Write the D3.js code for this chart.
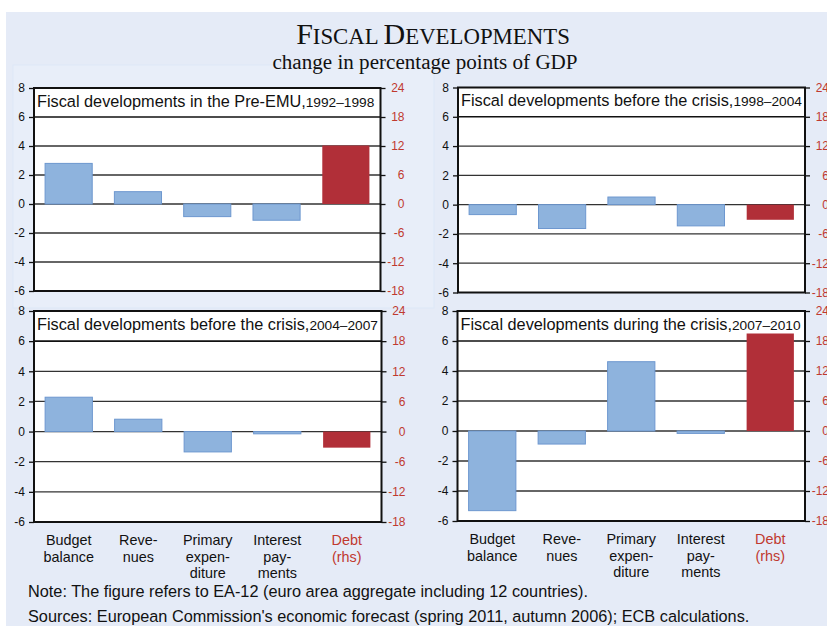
<!DOCTYPE html>
<html><head><meta charset="utf-8">
<script src="https://cdn.jsdelivr.net/npm/d3@7"></script>
<style>
html,body{margin:0;padding:0;background:#fff;}
svg{display:block;}
</style></head>
<body>
<svg id="chart" width="827" height="626"></svg>
<script>
// ---------- DATA ----------
const categories = [["Budget","balance"],["Reve-","nues"],["Primary","expen-","diture"],["Interest","pay-","ments"],["Debt","(rhs)"]];
const leftTicks = [-6,-4,-2,0,2,4,6,8];
const rightTicks = [-18,-12,-6,0,6,12,18,24];
const panelTitles = ["Fiscal developments in the Pre-EMU,","Fiscal developments before the crisis,","Fiscal developments before the crisis,","Fiscal developments during the crisis,"];
const panelPeriods = ["1992\u20131998","1998\u20132004","2004\u20132007","2007\u20132010"];
// Budget balance, Revenues, Primary expenditure, Interest payments (lhs)
const valuesPreEMU   = [2.8, 0.85, -0.87, -1.12];
const values9804     = [-0.68, -1.63, 0.52, -1.45];
const values0407     = [2.28, 0.82, -1.35, -0.15];
const values0710     = [-5.31, -0.87, 4.62, -0.16];
// Debt (rhs)
const debtValues     = [12.1, -3.1, -3.2, 19.5];
const noteLines = ["Note: The figure refers to EA-12 (euro area aggregate including 12 countries).",
  "Sources: European Commission's economic forecast (spring 2011, autumn 2006); ECB calculations."];

const seriesVals = [valuesPreEMU, values9804, values0407, values0710];

// ---------- LAYOUT ----------
const svg = d3.select("#chart");
const BLUE = "#8eb3dd", BLUE_STROKE = "#6d97cf", RED = "#b12f38", RED_TXT = "#c0392f";
const FONT = "'Liberation Sans', Arial, sans-serif";

svg.append("rect").attr("x",6).attr("y",12).attr("width",830).attr("height",620).attr("fill","#e5ebf7");
svg.append("rect").attr("x",13).attr("y",65).attr("width",421).attr("height",243)
  .attr("fill","#e8eef9").attr("stroke","#dde8f7").attr("stroke-width",1);

// Title
const title = svg.append("text").attr("x",433).attr("y",44).attr("text-anchor","middle")
  .attr("font-family","'Liberation Serif','Times New Roman',serif").attr("fill","#111");
title.append("tspan").attr("font-size",30).text("F");
title.append("tspan").attr("font-size",22.8).text("ISCAL ");
title.append("tspan").attr("font-size",30).text("D");
title.append("tspan").attr("font-size",22.8).text("EVELOPMENTS");
svg.append("text").attr("x",425).attr("y",69).attr("text-anchor","middle")
  .attr("font-family","'Liberation Serif','Times New Roman',serif").attr("font-size",21.1).attr("fill","#111")
  .text("change in percentage points of GDP");

const panels = [
  {l:34, r:380.5, t:88, b:291, labels:false},
  {l:458, r:805, t:87.5, b:292.5, labels:false},
  {l:34, r:381.5, t:311, b:522, labels:true},
  {l:457.5, r:805, t:311, b:521, labels:true}
];

panels.forEach((p,i)=>{
  const g = svg.append("g");
  const y = d3.scaleLinear().domain([-6,8]).range([p.b,p.t]);
  const y2 = d3.scaleLinear().domain([-18,24]).range([p.b,p.t]);
  const x = d3.scaleBand().domain(d3.range(categories.length)).range([p.l,p.r]).paddingInner(0.32).paddingOuter(0.16);

  g.append("rect").attr("x",p.l).attr("y",p.t).attr("width",p.r-p.l).attr("height",p.b-p.t).attr("fill","#fff");

  // grid
  g.selectAll("line.grid").data(leftTicks.filter(d=>d>-6 && d<8)).join("line")
    .attr("x1",p.l).attr("x2",p.r).attr("y1",d=>y(d)).attr("y2",d=>y(d))
    .attr("stroke",d=>d===6?"#111":"#333").attr("stroke-width",d=>d===6?1.6:1.3);

  // bars lhs
  const vals = seriesVals[i];
  g.selectAll("rect.bar").data(vals).join("rect")
    .attr("x",(d,j)=>x(j)).attr("width",x.bandwidth())
    .attr("y",d=>y(Math.max(0,d))).attr("height",d=>Math.abs(y(d)-y(0)))
    .attr("fill",BLUE).attr("stroke",BLUE_STROKE).attr("stroke-width",1);
  // debt bar rhs
  const dv = debtValues[i];
  g.append("rect").attr("x",x(4)).attr("width",x.bandwidth())
    .attr("y",y2(Math.max(0,dv))).attr("height",Math.abs(y2(dv)-y2(0)))
    .attr("fill",RED);

  // frame
  g.append("rect").attr("x",p.l).attr("y",p.t).attr("width",p.r-p.l).attr("height",p.b-p.t)
    .attr("fill","none").attr("stroke","#111").attr("stroke-width",2);

  // left axis
  const la = d3.axisLeft(y).tickValues(leftTicks).tickSize(5).tickPadding(4).tickFormat(d=>String(d));
  const lag = g.append("g").attr("transform",`translate(${p.l},0)`).call(la);
  lag.select(".domain").remove();
  lag.selectAll("line").attr("stroke","#111").attr("stroke-width",1.3);
  lag.selectAll("text").attr("font-family",FONT).attr("font-size",12).attr("fill","#111");

  // right axis
  const ra = d3.axisRight(y2).tickValues(rightTicks).tickSize(5).tickPadding(0).tickFormat(d=>String(d));
  const rag = g.append("g").attr("transform",`translate(${p.r},0)`).call(ra);
  rag.select(".domain").remove();
  rag.selectAll("line").attr("stroke","#111").attr("stroke-width",1.3);
  rag.selectAll("text").attr("font-family",FONT).attr("font-size",12).attr("fill",RED_TXT)
    .attr("text-anchor","end").attr("x",24);

  // panel title
  const tt = g.append("text").attr("x",p.l+3).attr("y",p.t+18.5).attr("font-family",FONT).attr("fill","#111");
  tt.append("tspan").attr("font-size",16.3).text(panelTitles[i]);
  tt.append("tspan").attr("font-size",13.7).text(panelPeriods[i]);

  // category labels
  if(p.labels){
    categories.forEach((c,j)=>{
      const t = g.append("text").attr("x",x(j)+x.bandwidth()/2).attr("y",p.b+23)
        .attr("text-anchor","middle").attr("font-family",FONT).attr("font-size",14.4)
        .attr("fill", j===4?RED_TXT:"#111");
      c.forEach((line,k)=>t.append("tspan").attr("x",x(j)+x.bandwidth()/2).attr("dy",k===0?0:16.5).text(line));
    });
  }
});

// notes
noteLines.forEach((n,k)=>{
  svg.append("text").attr("x",28).attr("y",597+k*25).attr("font-family",FONT).attr("font-size",16.3)
    .attr("fill","#111").text(n);
});
</script>
</body></html>
